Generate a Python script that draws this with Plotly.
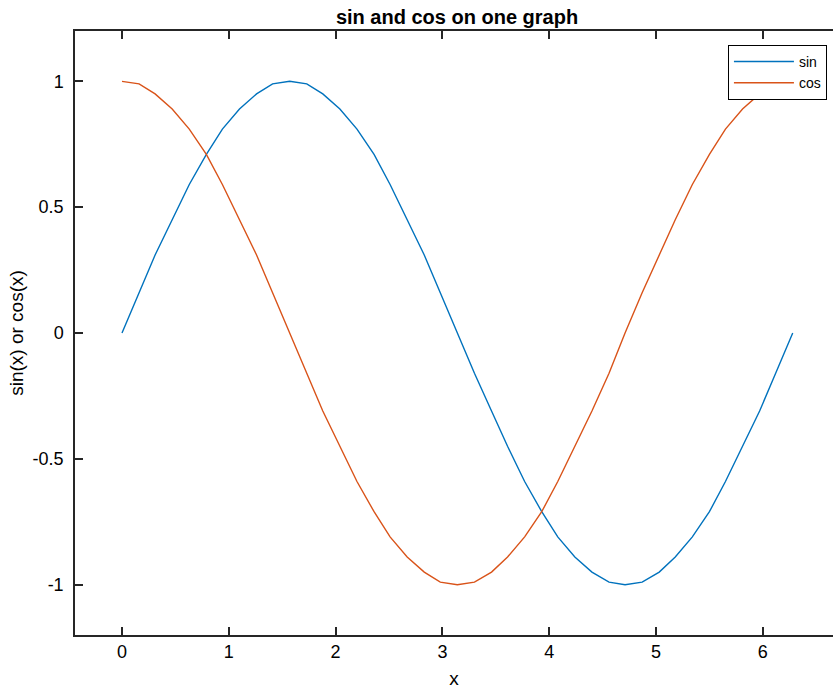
import plotly.graph_objects as go

# Sample points over one full period
x_vals = [0.00, 0.16, 0.31, 0.47, 0.63, 0.79, 0.94, 1.10, 1.26, 1.41,
          1.57, 1.73, 1.88, 2.04, 2.20, 2.36, 2.51, 2.67, 2.83, 2.98,
          3.14, 3.30, 3.46, 3.61, 3.77, 3.93, 4.08, 4.24, 4.40, 4.56,
          4.71, 4.87, 5.03, 5.18, 5.34, 5.50, 5.65, 5.81, 5.97, 6.12, 6.28]

sin_vals = [0.00, 0.16, 0.31, 0.45, 0.59, 0.71, 0.81, 0.89, 0.95, 0.99,
            1.00, 0.99, 0.95, 0.89, 0.81, 0.71, 0.59, 0.45, 0.31, 0.16,
            0.00, -0.16, -0.31, -0.45, -0.59, -0.71, -0.81, -0.89, -0.95, -0.99,
            -1.00, -0.99, -0.95, -0.89, -0.81, -0.71, -0.59, -0.45, -0.31, -0.16, 0.00]

cos_vals = [1.00, 0.99, 0.95, 0.89, 0.81, 0.71, 0.59, 0.45, 0.31, 0.16,
            0.00, -0.16, -0.31, -0.45, -0.59, -0.71, -0.81, -0.89, -0.95, -0.99,
            -1.00, -0.99, -0.95, -0.89, -0.81, -0.71, -0.59, -0.45, -0.31, -0.16,
            0.00, 0.16, 0.31, 0.45, 0.59, 0.71, 0.81, 0.89, 0.95, 0.99, 1.00]

x_ticks = [0, 1, 2, 3, 4, 5, 6]
y_ticks = [-1, -0.5, 0, 0.5, 1]
y_tick_text = ["-1", "-0.5", "0", "0.5", "1"]

FONT = "Liberation Sans, Arial, Helvetica, sans-serif"
AXIS_COLOR = "#262626"

fig = go.Figure()
fig.add_trace(go.Scatter(x=x_vals, y=sin_vals, mode="lines", name="sin",
                         line=dict(color="#0072BD", width=1.4)))
fig.add_trace(go.Scatter(x=x_vals, y=cos_vals, mode="lines", name="cos",
                         line=dict(color="#D95319", width=1.4)))

fig.update_layout(
    width=833, height=689,
    margin=dict(l=75, r=0, t=31, b=54),
    paper_bgcolor="white", plot_bgcolor="white",
    font=dict(family=FONT, color="black"),
    title=dict(text="<b>sin and cos on one graph</b>", x=457 / 833, xanchor="center",
               y=1 - 17 / 689, yanchor="middle", font=dict(size=20, color="black")),
    showlegend=True,
    legend=dict(x=0.992, xanchor="right", y=0.977, yanchor="top",
                bgcolor="white", bordercolor="black", borderwidth=1,
                font=dict(size=14, color="black"),
                tracegroupgap=0, itemwidth=60),
)

fig.update_xaxes(
    range=[-0.44, 6.657], tickvals=x_ticks, ticktext=[str(t) for t in x_ticks],
    showgrid=False, zeroline=False,
    showline=True, linecolor=AXIS_COLOR, linewidth=1.5, mirror="ticks",
    ticks="inside", ticklen=8, tickwidth=1.5, tickcolor=AXIS_COLOR,
    tickfont=dict(size=18, color="black"),
    title=dict(text="x", font=dict(size=19, color="black"), standoff=14),
)
fig.update_yaxes(
    range=[-1.2, 1.2], tickvals=y_ticks, ticktext=y_tick_text,
    showgrid=False, zeroline=False,
    showline=True, linecolor=AXIS_COLOR, linewidth=1.5, mirror=False,
    ticks="inside", ticklen=8, tickwidth=1.5, tickcolor=AXIS_COLOR,
    tickfont=dict(size=18, color="black"), ticklabelstandoff=6,
    title=dict(text="sin(x) or cos(x)", font=dict(size=19, color="black"), standoff=4),
)

fig.write_html("out.html")
